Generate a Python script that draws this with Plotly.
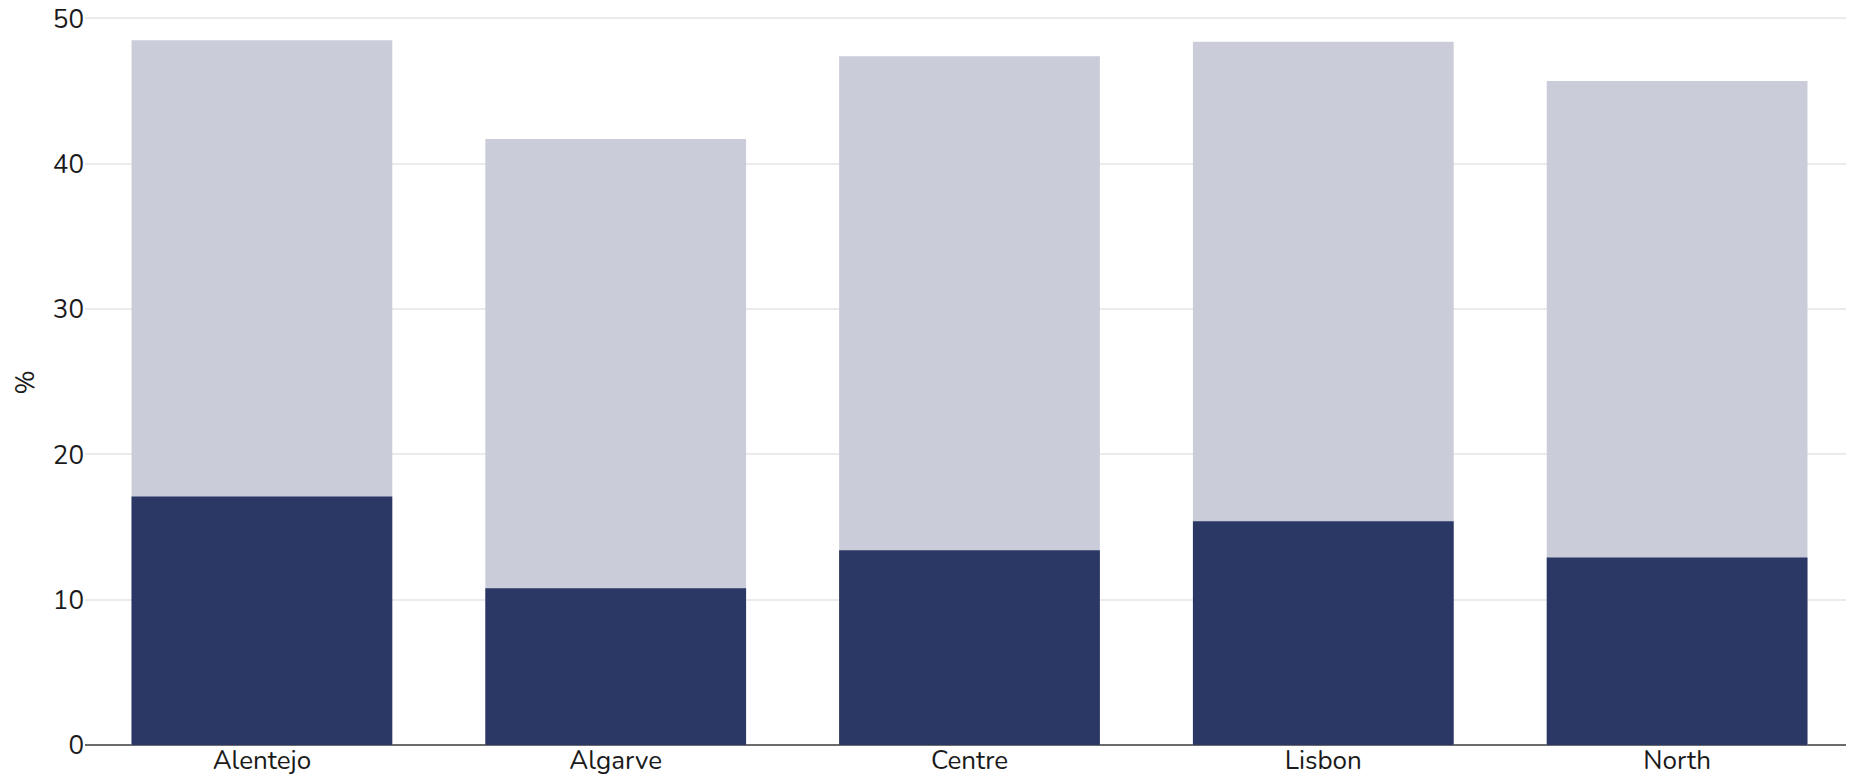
import plotly.graph_objects as go

regions = ["Alentejo", "Algarve", "Centre", "Lisbon", "North"]
total_values = [48.5, 41.7, 47.4, 48.4, 45.7]
dark_values = [17.1, 10.8, 13.4, 15.4, 12.9]
y_ticks = [0, 10, 20, 30, 40, 50]

fig = go.Figure()
fig.add_trace(go.Bar(
    x=regions, y=total_values, name="Total",
    marker=dict(color="#cacdd9", line=dict(width=0)),
))
fig.add_trace(go.Bar(
    x=regions, y=dark_values, name="Share",
    marker=dict(color="#2b3764", line=dict(width=0)),
))

fig.update_layout(
    width=1846, height=773,
    barmode="overlay",
    bargap=0.263,
    showlegend=False,
    plot_bgcolor="white",
    paper_bgcolor="white",
    margin=dict(l=77, r=0, t=9, b=33, autoexpand=False),
    font=dict(family="Nunito, Lato, sans-serif", size=26, color="#1a1a1a"),
)
fig.update_xaxes(
    showgrid=False, showline=False, ticks="",
    automargin=False,
    ticklabelstandoff=-6,
    tickfont=dict(size=26),
)
fig.update_yaxes(
    range=[-0.2, 50.1], tickvals=y_ticks,
    showgrid=True, gridcolor="#ebebeb", gridwidth=1.5,
    zeroline=True, zerolinecolor="#6b6b6b", zerolinewidth=2,
    showline=False, ticks="",
    automargin=False,
    ticklabeloverflow="allow",
    title=dict(text="%", standoff=12, font=dict(size=26)),
    tickfont=dict(size=26),
)

fig.write_html("out.html")
